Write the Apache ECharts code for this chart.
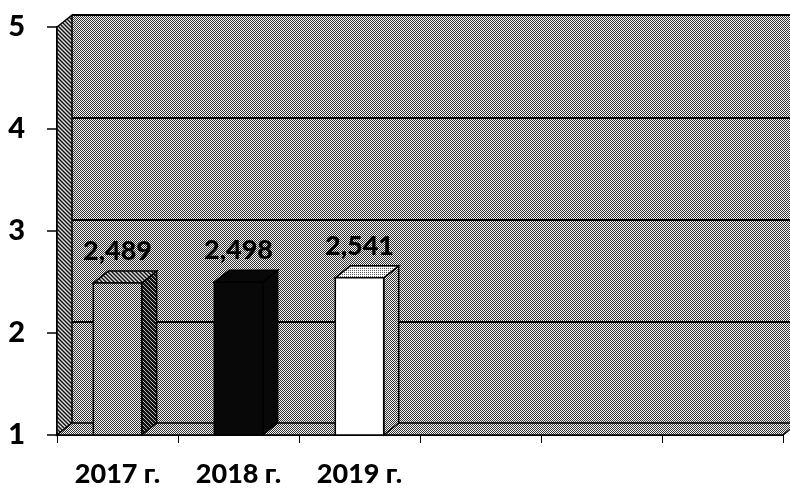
<!DOCTYPE html>
<html>
<head>
<meta charset="utf-8">
<script src="https://cdn.jsdelivr.net/npm/echarts@6/dist/echarts.min.js"></script>
<style>
  html, body { margin: 0; padding: 0; background: #fff; }
  #chart { width: 790px; height: 488px; }
</style>
</head>
<body>
<div id="chart"></div>
<script>
// Chart data
const categories = ['2017 г.', '2018 г.', '2019 г.', '', '', ''];
const values = [2.489, 2.498, 2.541];
const yTicks = [1, 2, 3, 4, 5];

// 3D depth offset of the walls and bars
const DX = 15;
const DY = -12;

// Small pixel patterns to imitate the dithered print
function makePattern(rows) {
  const c = document.createElement('canvas');
  c.width = rows[0].length;
  c.height = rows.length;
  const ctx = c.getContext('2d');
  rows.forEach((row, y) => row.forEach((col, x) => {
    ctx.fillStyle = col;
    ctx.fillRect(x, y, 1, 1);
  }));
  return { image: c, repeat: 'repeat' };
}

const bgPattern = makePattern([['#333', '#f6f6f6'], ['#f6f6f6', '#333']]);
const lightPattern = makePattern([['#5a5a5a', '#fafafa'], ['#fafafa', '#fafafa']]);
const hatchPattern = makePattern([
  ['#111', '#777', '#ddd', '#777'],
  ['#777', '#111', '#777', '#ddd'],
  ['#ddd', '#777', '#111', '#777'],
  ['#777', '#ddd', '#777', '#111']
]);
const darkHatch = makePattern([
  ['#111', '#111', '#bbb', '#111'],
  ['#111', '#111', '#111', '#bbb'],
  ['#bbb', '#111', '#111', '#111'],
  ['#111', '#bbb', '#111', '#111']
]);

const barStyles = [
  { front: bgPattern, top: hatchPattern, side: darkHatch },
  { front: '#080808', top: '#080808', side: '#080808' },
  { front: '#ffffff', top: lightPattern, side: bgPattern }
];

const FONT = 'Lato, "DejaVu Sans", sans-serif';
const labelFont = '900 27px ' + FONT;

function renderWalls(params, api) {
  const cs = params.coordSys;
  const x = cs.x, y = cs.y, w = cs.width, h = cs.height;
  const line = { stroke: '#000', lineWidth: 1.5 };
  return {
    type: 'group',
    children: [
      {
        type: 'polygon',
        shape: { points: [[x, y + h], [x, y], [x + DX, y + DY], [x + DX, y + h + DY]] },
        style: Object.assign({ fill: hatchPattern }, line)
      },
      {
        type: 'polygon',
        shape: { points: [[x, y + h], [x + DX, y + h + DY], [x + w + DX, y + h + DY], [x + w, y + h]] },
        style: Object.assign({ fill: bgPattern }, line)
      }
    ]
  };
}

function renderBar(params, api) {
  const i = api.value(0);
  const v = api.value(1);
  const base = api.coord([i, 1]);
  const top = api.coord([i, v]);
  const bw = api.size([1, 0])[0] * 0.4;
  const x0 = base[0] - bw / 2;
  const x1 = base[0] + bw / 2;
  const yt = top[1];
  const yb = base[1];
  const st = barStyles[params.dataIndex];
  const line = { stroke: '#000', lineWidth: 1.5 };
  return {
    type: 'group',
    children: [
      {
        type: 'polygon',
        shape: { points: [[x1, yt], [x1 + DX, yt + DY], [x1 + DX, yb + DY], [x1, yb]] },
        style: Object.assign({ fill: st.side }, line)
      },
      {
        type: 'polygon',
        shape: { points: [[x0, yt], [x0 + DX, yt + DY], [x1 + DX, yt + DY], [x1, yt]] },
        style: Object.assign({ fill: st.top }, line)
      },
      {
        type: 'rect',
        shape: { x: x0, y: yt, width: bw, height: yb - yt },
        style: Object.assign({ fill: st.front }, line)
      },
      {
        type: 'text',
        style: {
          text: v.toFixed(3).replace('.', ','),
          x: base[0],
          y: yt + DY - 6,
          align: 'center',
          verticalAlign: 'bottom',
          font: labelFont,
          fill: '#000'
        }
      }
    ]
  };
}

const chart = echarts.init(document.getElementById('chart'), null, { renderer: 'canvas' });

const option = {
  backgroundColor: '#fff',
  animation: false,
  grid: [
    // back wall
    { left: 57 + DX, top: 27 + DY, width: 726, height: 409, show: true, backgroundColor: bgPattern, borderWidth: 0 },
    // front plane
    { left: 57, top: 27, width: 726, height: 409 }
  ],
  xAxis: [
    { gridIndex: 0, type: 'category', data: categories, show: false },
    {
      gridIndex: 1,
      type: 'category',
      data: categories,
      axisLine: { lineStyle: { color: '#000', width: 2 } },
      axisTick: { show: true, length: 8, lineStyle: { color: '#000', width: 1 } },
      axisLabel: { margin: 26, color: '#000', fontSize: 27, fontWeight: 900, fontFamily: FONT }
    }
  ],
  yAxis: [
    {
      gridIndex: 0, type: 'value', min: yTicks[0], max: yTicks[yTicks.length - 1], interval: 1,
      axisLine: { show: false }, axisTick: { show: false }, axisLabel: { show: false },
      splitLine: { show: true, lineStyle: { color: '#000', width: 2 } }
    },
    {
      gridIndex: 1, type: 'value', min: yTicks[0], max: yTicks[yTicks.length - 1], interval: 1,
      axisLine: { show: true, lineStyle: { color: '#000', width: 2 } },
      axisTick: { show: true, length: 10, lineStyle: { color: '#000', width: 1.5 } },
      axisLabel: { margin: 32, color: '#000', fontSize: 29, fontWeight: 900, fontFamily: FONT },
      splitLine: { show: false }
    }
  ],
  series: [
    {
      type: 'custom',
      xAxisIndex: 1,
      yAxisIndex: 1,
      clip: false,
      z: 1,
      silent: true,
      data: [[0, 1]],
      renderItem: renderWalls
    },
    {
      type: 'custom',
      xAxisIndex: 1,
      yAxisIndex: 1,
      clip: false,
      z: 3,
      data: values.map((v, i) => [i, v]),
      renderItem: renderBar
    }
  ]
};

chart.setOption(option);
window.addEventListener('resize', () => chart.resize());
</script>
</body>
</html>
